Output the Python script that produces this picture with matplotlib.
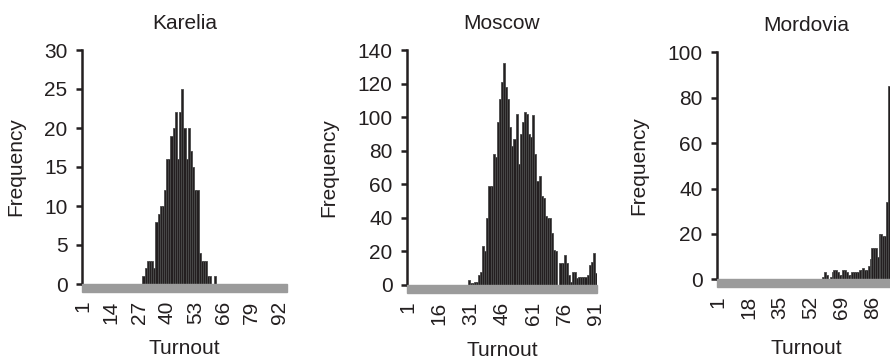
import matplotlib
matplotlib.use("Agg")
import matplotlib.pyplot as plt
from matplotlib.patches import Rectangle

plt.rcParams['font.family'] = ['Liberation Sans', 'DejaVu Sans']

# Karelia: turnout bins 1..95, frequencies from bin 29 on
karelia_first = 29
karelia_freq = [1, 2, 3, 3, 3, 2, 8, 9, 10, 10, 12, 16, 16, 19, 20, 22, 16, 22, 25,
                20, 16, 20, 17, 15, 12, 12, 4, 3, 3, 3, 1, 1, 0, 1]
karelia_nbins = 95
karelia_ticks = [1, 14, 27, 40, 53, 66, 79, 92]
karelia_yticks = [0, 5, 10, 15, 20, 25, 30]

# Moscow: bins 1..91, frequencies from bin 30 on
moscow_first = 30
moscow_freq = [3, 1, 1, 2, 2, 6, 8, 23, 20, 40, 59, 59, 78, 76, 97, 111, 121, 132,
               118, 111, 94, 83, 87, 102, 72, 90, 97, 103, 102, 90, 88, 101, 78, 62,
               65, 53, 52, 41, 40, 40, 31, 21, 20, 0, 13, 13, 18, 13, 6, 2, 8, 8, 4,
               5, 5, 5, 5, 6, 12, 14, 19, 7]
moscow_nbins = 91
moscow_ticks = [1, 16, 31, 46, 61, 76, 91]
moscow_yticks = [0, 20, 40, 60, 80, 100, 120, 140]

# Mordovia: bins 1..98 (right part cut off), frequencies from bin 59 on
mordovia_first = 59
mordovia_freq = [1, 3, 2, 0, 1, 3, 4, 4, 3, 2, 2, 4, 4, 3, 2, 2, 3, 3, 3, 3, 4, 4,
                 5, 4, 4, 6, 9, 14, 14, 14, 10, 20, 20, 19, 19, 34, 85]
mordovia_nbins = 98
mordovia_ticks = [1, 18, 35, 52, 69, 86]
mordovia_yticks = [0, 20, 40, 60, 80, 100]

FS = 15
DARK = '#231f20'

fig = plt.figure(figsize=(8.9, 3.61), dpi=100)


def panel(rect, title, first, freq, nbins, ticks, yticks, ylab_x, xlab_y):
    ax = fig.add_axes(rect)
    cats = list(range(first, first + len(freq)))
    ax.bar(cats, freq, width=1.0, color=DARK, edgecolor='#4a4a4a', linewidth=0.6)
    ax.set_xlim(0.5, nbins + 0.5)
    ax.set_ylim(yticks[0], yticks[-1])
    for s in ['top', 'right', 'bottom']:
        ax.spines[s].set_visible(False)
    ax.spines['left'].set_linewidth(1.8)
    ax.spines['left'].set_color(DARK)
    ax.set_yticks(yticks)
    ax.tick_params(axis='y', length=4, width=1.8, pad=6.5, labelsize=FS, colors=DARK)
    ax.set_xticks(ticks)
    ax.set_xticklabels([str(t) for t in ticks], rotation=90)
    ax.tick_params(axis='x', length=0, pad=12, labelsize=FS, colors=DARK)
    # grey band under the zero line
    h = rect[3] * 361
    ax.add_patch(Rectangle((0, -7.5 / h), 1, 7.5 / h, transform=ax.transAxes,
                           clip_on=False, color='#9b9b9b', zorder=3))
    ax.set_title(title, fontsize=FS, color=DARK, pad=15)
    ax.set_ylabel('Frequency', fontsize=FS, color=DARK)
    ax.yaxis.set_label_coords(ylab_x, 0.5)
    ax.set_xlabel('Turnout', fontsize=FS, color=DARK)
    ax.xaxis.set_label_coords(0.5, xlab_y)
    return ax


panel([82 / 890, 77 / 361, 205 / 890, 234 / 361], 'Karelia', karelia_first,
      karelia_freq, karelia_nbins, karelia_ticks, karelia_yticks, -0.278, -0.235)
panel([407 / 890, 76 / 361, 190 / 890, 235 / 361], 'Moscow', moscow_first,
      moscow_freq, moscow_nbins, moscow_ticks, moscow_yticks, -0.362, -0.24)
panel([717.3 / 890, 81.7 / 361, 177.7 / 890, 227 / 361], 'Mordovia', mordovia_first,
      mordovia_freq, mordovia_nbins, mordovia_ticks, mordovia_yticks, -0.388, -0.265)

fig.savefig('out.png', dpi=100)
